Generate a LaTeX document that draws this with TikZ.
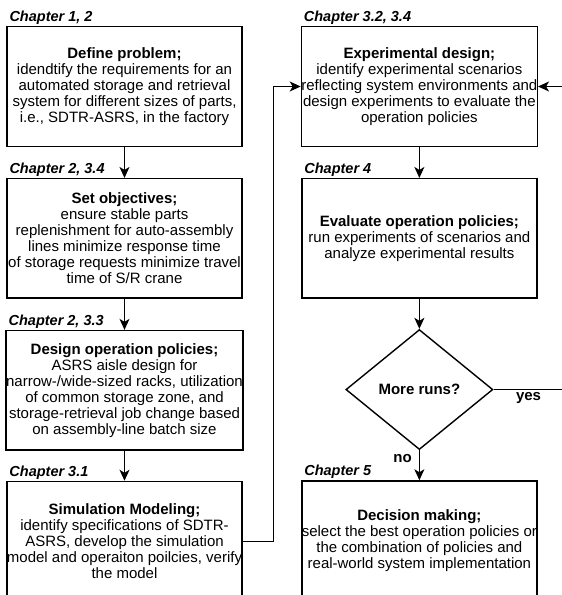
\documentclass[tikz,border=0pt]{standalone}
\usepackage{fontspec}
\setsansfont{Liberation Sans}
\usetikzlibrary{positioning, arrows.meta, shapes.geometric}

\begin{document}
\begin{tikzpicture}[
	x=1pt, y=1pt,
	node distance=31pt and 58pt,
	stage/.style={
		rectangle,
		draw=black,
		line width=1.4pt,
		minimum width=235pt,
		minimum height=119.5pt,
		inner xsep=0pt,
		align=center,
		font=\sffamily\fontsize{15}{16}\selectfont
	},
	check/.style={
		diamond,
		draw=black,
		line width=1.4pt,
		minimum width=147pt,
		minimum height=120pt,
		inner sep=0pt,
		font=\sffamily\bfseries\fontsize{15}{16}\selectfont
	},
	chap/.style={
		anchor=base west,
		inner sep=0pt,
		font=\sffamily\bfseries\itshape\fontsize{14.5}{16}\selectfont
	},
	lbl/.style={
		inner sep=2pt,
		font=\sffamily\bfseries\fontsize{15}{16}\selectfont
	},
	flow/.style={
		-{Stealth[length=11pt, width=10pt, inset=3pt]},
		line width=1.4pt,
		black
	}
	]
	\path[use as bounding box] (0,0) rectangle (562,-595);
	\clip (0,0) rectangle (562,-595);
	% left column
	\node[stage] (prob) at (124.5,-86.5)
	{\textbf{Define problem;}\\idendtify the requirements for an\\automated storage and retrieval\\system for different sizes of parts,\\i.e., SDTR-ASRS, in the factory};
	\node[stage, below=of prob] (obj)
	{\textbf{Set objectives;}\\ensure stable parts\\replenishment for auto-assembly\\lines minimize response time\\of storage requests minimize travel\\time of S/R crane};
	\node[stage, below=of obj] (pol)
	{\textbf{Design operation policies;}\\ASRS aisle design for\\narrow-/wide-sized racks, utilization\\of common storage zone, and\\storage-retrieval job change based\\on assembly-line batch size};
	\node[stage, below=30pt of pol] (sim)
	{\textbf{Simulation Modeling;}\\identify specifications of SDTR-\\ASRS, develop the simulation\\model and operaiton poilcies, verify\\the model};
	% right column
	\node[stage, right=of prob] (expd)
	{\textbf{Experimental design;}\\identify experimental scenarios\\reflecting system environments and\\design experiments to evaluate the\\operation policies};
	\node[stage, below=of expd] (eval)
	{\textbf{Evaluate operation policies;}\\run experiments of scenarios and\\analyze experimental results};
	\node[check, below=30pt of eval] (more) {More runs?};
	\node[stage, below=30pt of more] (dec)
	{\textbf{Decision making;}\\select the best operation policies or\\the combination of policies and\\real-world system implementation};
	% chapter tags
	\node[chap] (c1) at ([xshift=3pt, yshift=4.5pt]prob.north west) {Chapter 1, 2};
	\node[chap] (c2) at ([xshift=3pt, yshift=4.5pt]obj.north west) {Chapter 2, 3.4};
	\node[chap] (c3) at ([xshift=3pt, yshift=4.5pt]pol.north west) {Chapter 2, 3.3};
	\node[chap] (c4) at ([xshift=3pt, yshift=4.5pt]sim.north west) {Chapter 3.1};
	\node[chap] (c5) at ([xshift=3pt, yshift=4.5pt]expd.north west) {Chapter 3.2, 3.4};
	\node[chap] (c6) at ([xshift=3pt, yshift=4.5pt]eval.north west) {Chapter 4};
	\node[chap] (c7) at ([xshift=3pt, yshift=4.5pt]dec.north west) {Chapter 5};
	% connectors
	\draw[flow] (prob) -- (obj);
	\draw[flow] (obj) -- (pol);
	\draw[flow] (pol) -- (sim);
	\draw[flow] (sim.east) -- ++(31,0) |- (expd.west);
	\draw[flow] (expd) -- (eval);
	\draw[flow] (eval) -- (more);
	\draw[flow] (more.east) -- node[lbl, below] {yes} ++(70,0) |- (expd.east);
	\draw[flow] (more) -- node[lbl, pos=0.27, left=5pt] {no} (dec);
\end{tikzpicture}
\end{document}
